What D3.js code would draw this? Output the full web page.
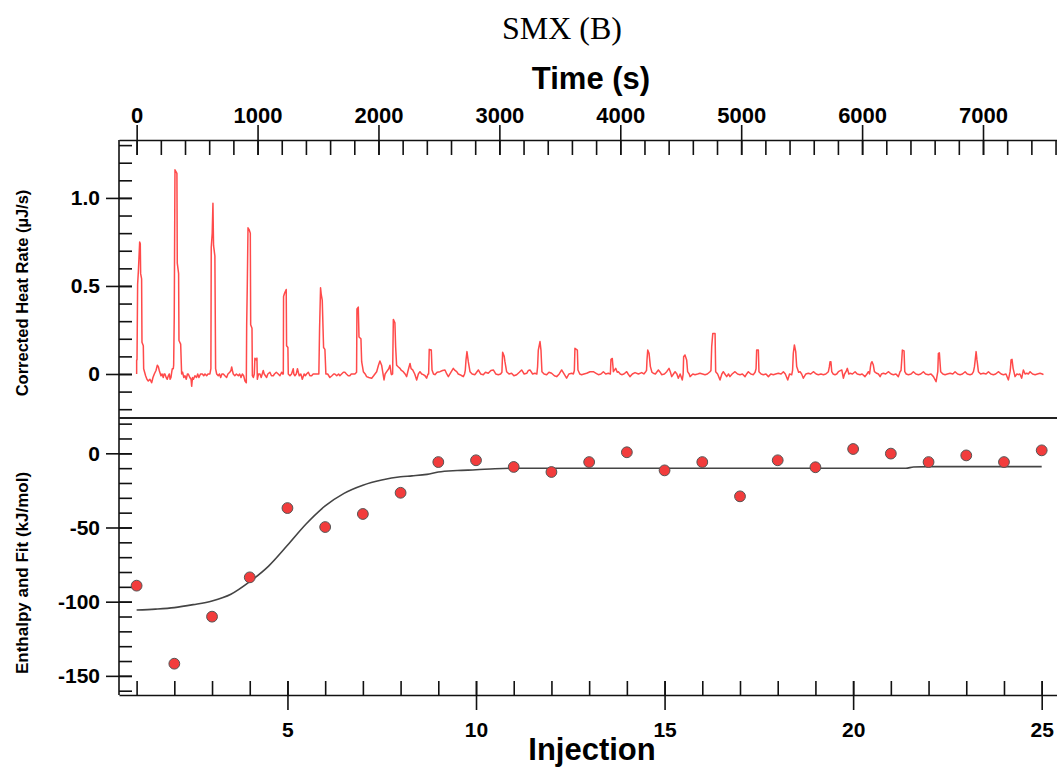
<!DOCTYPE html>
<html>
<head>
<meta charset="utf-8">
<script src="https://cdn.jsdelivr.net/npm/d3@7"></script>
<style>
  body { margin: 0; background: #fff; }
  text { font-family: "Liberation Sans", Arial, sans-serif; font-weight: bold; fill: #000; }
  .axis path, .axis line { stroke: #111; stroke-width: 1.6; }
</style>
</head>
<body>
<div id="chart"></div>
<script>
var width = 1057;
var height = 770;

// tick values and labels
var timeTicks = [0, 1000, 2000, 3000, 4000, 5000, 6000, 7000];
var injTicks = [5, 10, 15, 20, 25];
var heatTicks = [0, 0.5, 1.0];
var heatLabels = ["0", "0.5", "1.0"];
var enthTicks = [0, -50, -100, -150];

// integrated heats per injection (kJ/mol)
var injection = [1,2,3,4,5,6,7,8,9,10,11,12,13,14,15,16,17,18,19,20,21,22,23,24,25];
var enthalpy = [-89.2,-141.8,-110.1,-83.6,-36.9,-49.7,-40.9,-26.6,-5.9,-4.7,-9.2,-12.6,-5.9,0.7,-11.5,-5.9,-29.0,-4.7,-9.4,2.9,-0.2,-5.9,-1.4,-5.9,2.0];

// fitted curve
var fitInj = [1,1.5,2,2.5,3,3.5,4,4.5,5,5.5,6,6.5,7,7.5,8,8.3,8.7,9,9.5,10,10.5,11,12,13,14,15,16,17,18,19,20,21,21.4,21.6,22,23,24,25];
var fitVal = [-105.6,-105,-104,-102,-99.5,-95,-86.5,-76,-62,-47.5,-35.5,-27,-21.5,-18,-15.8,-15.2,-14.2,-12.6,-11.6,-11.1,-10.4,-10.1,-10.1,-10.1,-10.1,-10.1,-10.1,-10.1,-10.1,-10.1,-10.1,-10.1,-10.1,-9.2,-9.0,-9.0,-9.0,-9.0];

// corrected heat rate thermogram [time s, uJ/s]
var thermogram = [
  [0,0],[0,0.08],[3,0.08],[8,0.51],[14,0.58],[25,0.75],[30,0.74],[33,0.57],[41,0.54],[44,0.18],[55,0.16],[58,0.03],[66,0.01],[74,-0.01],[85,-0.03],[96,-0.04],[110,-0.03],[124,-0.05],[135,-0.02],[146,0.0],[160,0.02],[171,0.05],[180,0.04],[187,0.02],[201,-0.01],[210,0.0],[220,-0.02],[227,0.0],[234,0.0],[244,-0.02],[253,-0.03],[262,-0.01],[270,0.0],[277,-0.03],[284,-0.02],[290,0.01],[295,0.03],[303,0.03],
  [306,0.05],[311,0.33],[317,1.16],[325,1.15],[333,1.14],[336,0.63],[347,0.57],[350,0.19],[364,0.17],[372,0.0],[380,0.01],[390,-0.02],[400,-0.01],[410,-0.03],[420,0.0],[427,0.0],[440,-0.02],[450,-0.03],[455,-0.07],[462,-0.02],[470,-0.03],[482,-0.01],[495,-0.02],[505,0.0],[515,-0.02],[528,0.0],[543,0.0],[555,-0.01],[565,0.0],[579,-0.01],[590,0.0],[606,0.0],
  [614,0.03],[617,0.72],[625,0.80],[631,0.97],[636,0.73],[647,0.67],[653,0.03],[662,0.0],[675,-0.01],[685,0.0],[695,-0.02],[705,0.0],[717,0.0],[730,-0.01],[744,-0.02],[755,0.0],[770,0.01],[780,0.02],[786,0.04],[792,0.02],[799,0.0],[812,-0.01],[825,0.0],[841,-0.01],[852,0.0],[863,-0.02],[874,0.0],[885,-0.01],[896,-0.04],
  [907,-0.05],[910,0.28],[915,0.5],[921,0.83],[930,0.82],[940,0.80],[943,0.28],[954,0.26],[957,-0.01],[965,-0.02],[973,0.0],[978,0.09],[990,0.08],[995,0.09],[998,-0.03],[1008,0.0],[1020,0.0],[1030,-0.02],[1047,0.02],[1055,0.0],[1065,-0.01],[1075,-0.02],[1085,0.0],[1102,0.01],[1115,-0.01],[1130,-0.01],[1140,0.0],[1155,0.01],[1171,0.0],[1185,-0.01],[1199,0.01],[1208,0.0],
  [1213,0.0],[1215,0.44],[1224,0.46],[1237,0.48],[1240,0.16],[1251,0.15],[1254,0.0],[1268,-0.01],[1281,0.0],[1295,0.03],[1300,0.0],[1309,-0.01],[1320,0.0],[1330,0.03],[1337,0.01],[1345,-0.01],[1358,0.0],[1370,-0.03],[1385,0.0],[1395,-0.01],[1405,0.0],[1420,0.01],[1433,-0.01],[1447,-0.01],[1460,0.0],[1475,0.0],[1488,0.0],[1500,0.0],
  [1507,0.0],[1513,0.26],[1521,0.49],[1527,0.45],[1535,0.42],[1546,0.15],[1557,0.14],[1565,0.0],[1580,0.0],[1598,-0.02],[1615,-0.01],[1630,0.0],[1639,0.0],[1655,-0.01],[1670,0.0],[1681,-0.01],[1695,0.0],[1710,0.01],[1722,0.01],[1735,0.0],[1750,-0.01],[1763,-0.01],[1775,0.0],[1790,0.0],[1805,0.0],
  [1819,0.01],[1822,0.37],[1833,0.38],[1839,0.21],[1855,0.20],[1861,0.07],[1866,0.05],[1875,0.013],[1890,0.0],[1902,-0.015],[1920,-0.02],[1944,-0.024],[1960,-0.01],[1985,0.013],[2000,0.05],[2012,0.074],[2026,0.05],[2046,-0.034],[2055,0.0],[2068,0.013],[2085,0.03],[2095,0.05],[2105,0.0],[2109,-0.004],
  [2117,0.0],[2123,0.31],[2136,0.29],[2142,0.155],[2150,0.05],[2165,0.04],[2178,0.032],[2190,0.02],[2205,0.013],[2220,0.0],[2233,-0.015],[2245,0.02],[2261,0.06],[2270,0.03],[2283,0.023],[2300,0.0],[2316,-0.034],[2330,0.0],[2343,0.013],[2358,0.0],[2371,-0.004],[2385,-0.01],[2398,-0.024],[2410,0.0],
  [2415,0.0],[2420,0.14],[2437,0.136],[2443,0.023],[2455,0.0],[2467,-0.004],[2485,0.01],[2509,0.013],[2530,0.02],[2550,0.023],[2565,0.0],[2578,-0.015],[2600,0.01],[2619,0.032],[2633,0.02],[2647,0.013],[2660,0.0],[2674,-0.004],[2690,-0.01],[2702,-0.015],[2712,0.0],
  [2718,0.02],[2724,0.08],[2732,0.127],[2743,0.07],[2757,0.013],[2775,0.0],[2798,-0.004],[2812,0.01],[2826,0.023],[2845,0.0],[2867,-0.004],[2885,0.01],[2908,0.004],[2930,0.02],[2950,0.023],[2970,0.0],[2991,-0.004],[3010,0.0],
  [3021,0.01],[3027,0.123],[3040,0.1],[3046,0.07],[3060,0.013],[3080,0.0],[3101,0.004],[3120,-0.01],[3143,-0.004],[3165,0.01],[3184,0.023],[3205,0.0],[3226,0.004],[3240,0.02],[3253,0.023],[3275,0.0],[3294,0.004],[3310,0.0],
  [3316,0.04],[3322,0.136],[3336,0.184],[3344,0.136],[3352,0.013],[3370,0.0],[3391,-0.004],[3410,0.01],[3432,0.004],[3455,-0.01],[3474,-0.015],[3495,0.0],[3515,0.023],[3535,0.0],[3556,-0.024],[3575,0.0],[3598,0.004],[3612,0.0],
  [3620,0.02],[3625,0.146],[3645,0.136],[3650,0.023],[3665,0.0],[3680,-0.004],[3700,0.0],[3722,0.004],[3750,0.013],[3777,0.013],[3800,0.004],[3819,-0.004],[3840,0.0],[3860,0.013],[3880,0.0],[3901,0.004],[3918,0.0],
  [3923,0.083],[3934,0.088],[3943,0.013],[3962,0.032],[3975,0.01],[3984,0.013],[4000,0.0],[4012,-0.004],[4030,0.0],[4053,0.013],[4065,0.0],[4080,-0.015],[4100,0.0],[4122,0.008],[4150,0.0],[4177,0.008],[4195,0.0],[4210,0.013],[4217,0.02],
  [4221,0.08],[4227,0.136],[4238,0.117],[4249,0.042],[4262,0.01],[4273,0.004],[4290,0.0],[4315,0.023],[4330,0.01],[4342,-0.004],[4365,0.0],[4384,0.013],[4403,0.032],[4415,0.01],[4425,-0.015],[4440,0.0],[4453,0.013],[4468,0.0],[4480,-0.024],[4495,0.0],[4513,-0.034],[4520,0.0],
  [4524,0.098],[4535,0.108],[4549,0.08],[4557,0.013],[4570,0.0],[4577,-0.015],[4600,0.0],[4618,-0.004],[4640,0.0],[4659,0.004],[4680,0.0],[4701,-0.004],[4720,0.0],[4742,0.013],[4750,0.02],
  [4756,0.155],[4765,0.23],[4770,0.23],[4784,0.23],[4789,0.013],[4805,0.0],[4825,-0.034],[4840,0.0],[4852,0.013],[4865,0.0],[4880,-0.015],[4895,0.0],[4907,-0.015],[4925,0.0],[4949,0.013],[4970,0.0],[4990,-0.004],[5010,0.0],[5032,-0.015],[5045,0.0],[5059,0.013],[5080,0.0],[5101,-0.004],[5115,0.01],
  [5123,0.03],[5128,0.136],[5142,0.136],[5147,0.013],[5165,0.0],[5183,-0.004],[5205,0.0],[5225,-0.015],[5245,0.0],[5266,-0.004],[5285,0.0],[5307,0.004],[5330,0.0],[5349,0.013],[5365,0.0],[5385,-0.034],[5400,0.0],[5418,-0.004],[5425,0.02],
  [5431,0.117],[5440,0.165],[5451,0.127],[5459,0.042],[5475,0.01],[5487,0.013],[5500,0.0],[5514,-0.024],[5535,0.0],[5555,0.004],[5575,0.0],[5597,0.013],[5620,0.0],[5638,-0.004],[5660,0.0],[5680,-0.004],[5700,0.0],[5721,0.013],[5729,0.04],
  [5735,0.07],[5742,0.07],[5749,0.013],[5760,0.0],[5776,-0.004],[5790,0.0],[5804,0.013],[5832,0.023],[5845,-0.024],[5855,0.0],[5867,0.013],[5878,0.032],[5890,0.0],[5900,0.004],[5920,0.0],[5942,0.013],[5960,0.0],[5983,-0.004],[6000,0.0],[6024,-0.015],[6040,0.0],[6052,0.013],[6062,0.0],
  [6069,0.04],[6074,0.06],[6082,0.07],[6093,0.051],[6102,0.013],[6121,0.004],[6135,0.0],[6149,-0.015],[6160,0.0],[6176,0.004],[6195,0.0],[6217,0.013],[6240,0.0],[6259,-0.004],[6280,0.0],[6300,-0.015],[6314,0.013],[6322,0.02],
  [6328,0.08],[6333,0.136],[6347,0.131],[6353,0.013],[6365,0.0],[6383,-0.004],[6405,0.0],[6424,0.013],[6445,0.0],[6466,-0.004],[6485,0.0],[6507,0.013],[6525,0.0],[6548,-0.004],[6570,0.0],[6590,-0.015],[6612,-0.044],[6626,0.013],
  [6631,0.117],[6639,0.12],[6650,0.013],[6668,0.0],[6686,-0.004],[6705,0.0],[6728,0.004],[6750,0.0],[6769,0.013],[6790,0.0],[6810,-0.004],[6830,0.0],[6852,0.013],[6870,0.0],[6893,-0.004],[6910,0.0],[6921,0.013],[6929,0.04],
  [6934,0.07],[6943,0.127],[6950,0.08],[6954,0.06],[6962,0.013],[6980,0.0],[7003,0.004],[7025,0.0],[7045,0.013],[7065,0.0],[7086,-0.004],[7105,0.0],[7127,0.013],[7150,0.0],[7169,-0.004],[7190,0.0],[7210,-0.034],[7224,0.013],[7228,0.04],
  [7232,0.08],[7240,0.083],[7249,0.032],[7265,-0.015],[7280,0.0],[7293,-0.004],[7305,0.0],[7320,-0.024],[7334,0.023],[7348,0.0],[7362,0.004],[7375,0.0],[7389,0.013],[7410,0.0],[7431,-0.004],[7450,0.0],[7472,0.004],[7490,0.0],[7500,-0.004]
];

var svg = d3.select("#chart")
            .append("svg")
            .attr("width", width)
            .attr("height", height);

// scales
var xTime = d3.scaleLinear().domain([-146, 7612]).range([119, 1057]);
var yHeat = d3.scaleLinear().domain([-0.25, 1.329]).range([418, 140]);
var xInj = d3.scaleLinear().domain([0.533, 25.406]).range([119, 1057]);
var yEnth = d3.scaleLinear().domain([-162.9, 23.8]).range([695, 418]);

// plain hyphen minus like the original software
var plainFormat = function(d){ return String(d); };

// title
svg.append("text")
   .attr("x", 562).attr("y", 39)
   .attr("text-anchor", "middle")
   .style("font-family", "'Liberation Serif', 'Times New Roman', serif")
   .style("font-weight", "normal")
   .style("font-size", "32px")
   .text("SMX (B)");

// ---- top time axis ----
var timeMinor = d3.axisTop(xTime)
                  .tickValues(d3.range(0, 7601, 200))
                  .tickSize(-15)
                  .tickSizeOuter(0)
                  .tickFormat("");
svg.append("g").attr("class", "axis")
   .attr("transform", "translate(0,140)")
   .call(timeMinor);

var timeMajor = d3.axisTop(xTime)
                  .tickValues(timeTicks)
                  .tickSize(15)
                  .tickPadding(2)
                  .tickFormat(plainFormat);
var gTime = svg.append("g").attr("class", "axis")
   .attr("transform", "translate(0,140)")
   .call(timeMajor);
gTime.select(".domain").remove();
gTime.selectAll(".tick line").attr("y1", 15);
gTime.selectAll("text").style("font-size", "22px").attr("font-family", null);

svg.append("text")
   .attr("x", 591).attr("y", 89)
   .attr("text-anchor", "middle")
   .style("font-size", "31px")
   .text("Time (s)");

// ---- left axis, heat rate ----
var heatMinor = d3.axisLeft(yHeat)
                  .tickValues(d3.range(-2, 14).map(function(d){ return d / 10; }))
                  .tickSize(-13)
                  .tickSizeOuter(0)
                  .tickFormat("");
svg.append("g").attr("class", "axis")
   .attr("transform", "translate(119,0)")
   .call(heatMinor)
   .select(".domain").remove();

var heatMajor = d3.axisLeft(yHeat)
                  .tickValues(heatTicks)
                  .tickSize(13)
                  .tickPadding(6)
                  .tickFormat(function(d, i){ return heatLabels[i]; });
var gHeat = svg.append("g").attr("class", "axis")
   .attr("transform", "translate(119,0)")
   .call(heatMajor);
gHeat.select(".domain").remove();
gHeat.selectAll(".tick line").attr("x1", 13);
gHeat.selectAll("text").style("font-size", "21px").attr("font-family", null);

svg.append("text")
   .attr("transform", "translate(28,293) rotate(-90)")
   .attr("text-anchor", "middle")
   .style("font-size", "16.5px")
   .text("Corrected Heat Rate (\u00b5J/s)");

// ---- left axis, enthalpy ----
var enthMinor = d3.axisLeft(yEnth)
                  .tickValues(d3.range(-160, 21, 10))
                  .tickSize(-13)
                  .tickSizeOuter(0)
                  .tickFormat("");
svg.append("g").attr("class", "axis")
   .attr("transform", "translate(119,0)")
   .call(enthMinor)
   .select(".domain").remove();

var enthMajor = d3.axisLeft(yEnth)
                  .tickValues(enthTicks)
                  .tickSize(13)
                  .tickPadding(6)
                  .tickFormat(plainFormat);
var gEnth = svg.append("g").attr("class", "axis")
   .attr("transform", "translate(119,0)")
   .call(enthMajor);
gEnth.select(".domain").remove();
gEnth.selectAll(".tick line").attr("x1", 13);
gEnth.selectAll("text").style("font-size", "21px").attr("font-family", null);

svg.append("text")
   .attr("transform", "translate(28,573) rotate(-90)")
   .attr("text-anchor", "middle")
   .style("font-size", "17px")
   .text("Enthalpy and Fit (kJ/mol)");

// left frame line
svg.append("line")
   .attr("x1", 119).attr("x2", 119)
   .attr("y1", 140).attr("y2", 695)
   .attr("stroke", "#111").attr("stroke-width", 1.6);

// panel separator
svg.append("line")
   .attr("x1", 119).attr("x2", width)
   .attr("y1", 418).attr("y2", 418)
   .attr("stroke", "#222").attr("stroke-width", 2);

// ---- bottom injection axis ----
var injMinor = d3.axisBottom(xInj)
                 .tickValues(injection)
                 .tickSize(-14)
                 .tickSizeOuter(0)
                 .tickFormat("");
svg.append("g").attr("class", "axis")
   .attr("transform", "translate(0,695)")
   .call(injMinor);

var injMajor = d3.axisBottom(xInj)
                 .tickValues(injTicks)
                 .tickSize(15)
                 .tickPadding(12)
                 .tickFormat(plainFormat);
var gInj = svg.append("g").attr("class", "axis")
   .attr("transform", "translate(0,695)")
   .call(injMajor);
gInj.select(".domain").remove();
gInj.selectAll(".tick line").attr("y1", -14);
gInj.selectAll("text").style("font-size", "21px").attr("font-family", null);

svg.append("text")
   .attr("x", 592).attr("y", 760)
   .attr("text-anchor", "middle")
   .style("font-size", "31px")
   .text("Injection");

// ---- thermogram ----
var heatLine = d3.line()
                 .x(function(d){ return xTime(d[0]); })
                 .y(function(d){ return yHeat(d[1]); });
svg.append("path")
   .datum(thermogram)
   .attr("fill", "none")
   .attr("stroke", "#ff4a4a")
   .attr("stroke-width", 1.5)
   .attr("stroke-linejoin", "round")
   .attr("d", heatLine);

// ---- fit curve ----
var fitLine = d3.line()
                .x(function(d, i){ return xInj(fitInj[i]); })
                .y(function(d){ return yEnth(d); })
                .curve(d3.curveMonotoneX);
svg.append("path")
   .datum(fitVal)
   .attr("fill", "none")
   .attr("stroke", "#444")
   .attr("stroke-width", 1.6)
   .attr("d", fitLine);

// ---- enthalpy points ----
svg.selectAll(".dot")
   .data(enthalpy)
   .enter()
   .append("circle")
   .attr("class", "dot")
   .attr("cx", function(d, i){ return xInj(injection[i]); })
   .attr("cy", function(d){ return yEnth(d); })
   .attr("r", 5.4)
   .attr("fill", "#f23c3c")
   .attr("stroke", "#555")
   .attr("stroke-width", 1);
</script>
</body>
</html>
